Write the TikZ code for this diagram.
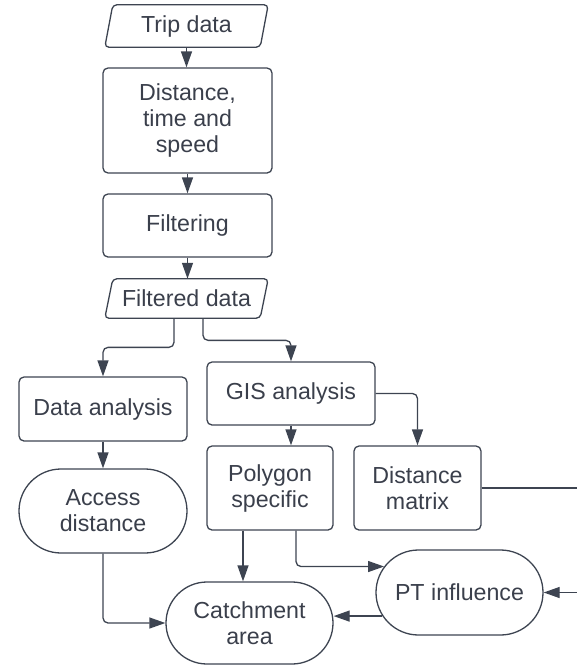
\documentclass[tikz,border=0pt]{standalone}
\usepackage{fontspec}
\setmainfont{Liberation Sans}
\usetikzlibrary{arrows.meta,shapes.misc,calc}
\definecolor{ink}{HTML}{3D4451}
\definecolor{txt}{HTML}{3A3F4B}
\begin{document}
\begin{tikzpicture}[x=1pt,y=-1pt,
  every node/.style={text=txt,font=\fontsize{23.2}{26}\selectfont,align=center,inner sep=0pt},
  box/.style={draw=ink,line width=1.3pt,rounded corners=5pt},
  stadium/.style={draw=ink,line width=1.3pt,rounded rectangle,rounded rectangle arc length=180},
  io/.style={},
  link/.style={draw=ink,line width=1.3pt},
  arr/.style={link,-{Triangle[length=16pt,width=11pt]}}]
\useasboundingbox (0,0) rectangle (577,667);

% input / output parallelograms
\node[io,minimum width=155pt,minimum height=42pt] (trip) at (186.5,26) {Trip data};
\node[io,minimum width=155pt,minimum height=39pt] (fdata) at (186.5,298.5) {Filtered data};
\foreach \n in {trip,fdata}
  \draw[link,rounded corners=4pt]
    ($(\n.south west)+(-4,0)$) -- ($(\n.north west)+(4,0)$) --
    ($(\n.north east)+(4,0)$) -- ($(\n.south east)+(-4,0)$) -- cycle;

% process boxes
\node[box,minimum width=169pt,minimum height=105pt] (dts) at (187.5,120.5) {Distance,\\time and\\speed};
\node[box,minimum width=169pt,minimum height=63pt] (filt) at (187.5,225.5) {Filtering};
\node[box,minimum width=168pt,minimum height=64pt] (da) at (103,409) {Data analysis};
\node[box,minimum width=168pt,minimum height=63pt] (gis) at (291,393.5) {GIS analysis};
\node[box,minimum width=126pt,minimum height=84pt] (poly) at (270,488) {Polygon\\specific};
\node[box,minimum width=127pt,minimum height=84pt] (dm) at (417.5,488) {Distance\\matrix};

% terminal shapes
\node[stadium,minimum width=168pt,minimum height=84pt] (acc) at (103,511) {Access\\distance};
\node[stadium,minimum width=167pt,minimum height=85pt] (pt) at (459.5,592.5) {PT influence};
\node[stadium,minimum width=167pt,minimum height=82pt] (catch) at (249.5,623) {Catchment\\area};

% free ends at the right margin
\coordinate (rimA) at (577,488);
\coordinate (rimB) at (577,592.5);

% main chain
\draw[arr] (trip.south) -- (trip.south |- dts.north);
\draw[arr] (dts.south) -- (filt.north);
\draw[arr] (filt.south) -- (filt.south |- fdata.north);

% branches
\draw[arr,rounded corners=5pt] ([xshift=-12.5pt]fdata.south) |- ($(da.north)+(0,-29)$) -- (da.north);
\draw[arr,rounded corners=5pt] ([xshift=16.5pt]fdata.south) |- ($(gis.north)+(0,-21)$) -- (gis.north);
\draw[arr] (gis.south) -- (gis.south |- poly.north);
\draw[arr,rounded corners=5pt] (gis.east) -| (dm.north);
\draw[arr] (da.south) -- (acc.north);
\draw[arr,rounded corners=5pt] (acc.south) |- (catch.west);
\draw[arr] ([xshift=-27pt]poly.south) -- ([xshift=-27pt]poly.south |- catch.north);
\draw[arr,rounded corners=5pt] ([xshift=26pt]poly.south) |- (pt.161);
\draw[arr] (pt.197) -- (pt.197 -| catch.east);
\draw[link] (dm.east) -- (rimA);
\draw[arr] (rimB) -- (pt.east);
\end{tikzpicture}
\end{document}
